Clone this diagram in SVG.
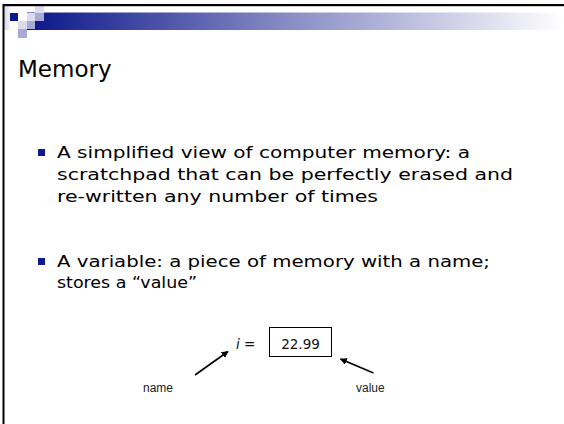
<svg xmlns="http://www.w3.org/2000/svg" width="564" height="424" viewBox="0 0 564 424">
  <defs>
    <linearGradient id="barGrad" x1="0" y1="0" x2="1" y2="0">
      <stop offset="0" stop-color="#0b168a"/>
      <stop offset="0.45" stop-color="#7f84c0"/>
      <stop offset="1" stop-color="#ffffff"/>
    </linearGradient>
    <linearGradient id="sideGrad" x1="0" y1="0" x2="1" y2="0">
      <stop offset="0" stop-color="#d6d6ec"/>
      <stop offset="1" stop-color="#f4f4fa"/>
    </linearGradient>
    <marker id="arrow" viewBox="0 0 10 10" refX="9" refY="5" markerWidth="7" markerHeight="7" markerUnits="userSpaceOnUse" orient="auto">
      <path d="M0,0 L10,5 L0,10 z" fill="#000"/>
    </marker>
    <style>
      .body { font-family: "DejaVu Sans", "Noto Sans", sans-serif; font-size: 16px; fill: #000; }
      .title { font-family: "DejaVu Sans", "Noto Sans", sans-serif; font-size: 23px; fill: #000; }
      .bullet { fill: #0f1a8c; }
      .small { font-family: "Liberation Sans", Arial, sans-serif; font-size: 12px; fill: #222; }
      .expr { font-family: "DejaVu Sans", sans-serif; font-size: 13.5px; fill: #111; }
      .conn { stroke: #000; stroke-width: 1.6; fill: none; }
    </style>
  </defs>

  <rect width="564" height="424" fill="#fff"/>

  <!-- header: gradient bar and square motif -->
  <g id="header">
    <rect x="27" y="12.5" width="537" height="17.5" fill="url(#barGrad)"/>
    <rect x="4" y="6" width="6" height="24" fill="url(#sideGrad)"/>
    <rect x="10" y="13" width="8" height="8" fill="#0d1a8f"/>
    <rect x="27" y="13" width="8" height="8" fill="#dcdcef"/>
    <rect x="35" y="13" width="9" height="8" fill="#aaaad6"/>
    <rect x="35" y="6" width="9" height="7" fill="#dcdcee"/>
    <rect x="18" y="21" width="9" height="8" fill="#dcdcee"/>
    <rect x="27" y="21" width="8" height="8" fill="#aaaad6"/>
    <rect x="18" y="29" width="9" height="9" fill="#aaaad6"/>
    <rect x="3" y="4" width="561" height="2.2" fill="#000"/>
    <rect x="2.5" y="4" width="2" height="420" fill="#000"/>
  </g>

  <text class="title" x="18" y="77">Memory</text>

  <!-- bullet list -->
  <g id="bullet1">
    <rect class="bullet" x="38" y="149" width="7" height="7"/>
    <text class="body" x="57" y="158" textLength="413" lengthAdjust="spacingAndGlyphs">A simplified view of computer memory: a</text>
    <text class="body" x="57" y="180" textLength="456" lengthAdjust="spacingAndGlyphs">scratchpad that can be perfectly erased and</text>
    <text class="body" x="57" y="202" textLength="321" lengthAdjust="spacingAndGlyphs">re-written any number of times</text>
  </g>
  <g id="bullet2">
    <rect class="bullet" x="38" y="258" width="7" height="7"/>
    <text class="body" x="57" y="267" textLength="433" lengthAdjust="spacingAndGlyphs">A variable: a piece of memory with a name;</text>
    <text class="body" x="57" y="288" textLength="140" lengthAdjust="spacingAndGlyphs">stores a “value”</text>
  </g>

  <!-- variable box -->
  <g id="expr">
    <text class="expr" x="236" y="349"><tspan font-style="italic">i</tspan> =</text>
  </g>
  <g id="valueBox">
    <rect x="269.5" y="327.5" width="62" height="29" fill="#fff" stroke="#000" stroke-width="1"/>
    <text class="expr" x="300.5" y="349" text-anchor="middle">22.99</text>
  </g>
  <g id="nameLabel">
    <text class="small" x="143" y="392">name</text>
  </g>
  <g id="valueLabel">
    <text class="small" x="356" y="392">value</text>
  </g>

  <g id="connectors">
    <line class="conn" x1="195" y1="375" x2="228" y2="351.5" marker-end="url(#arrow)"/>
    <line class="conn" x1="373.5" y1="373" x2="340.5" y2="359" marker-end="url(#arrow)"/>
  </g>
</svg>
